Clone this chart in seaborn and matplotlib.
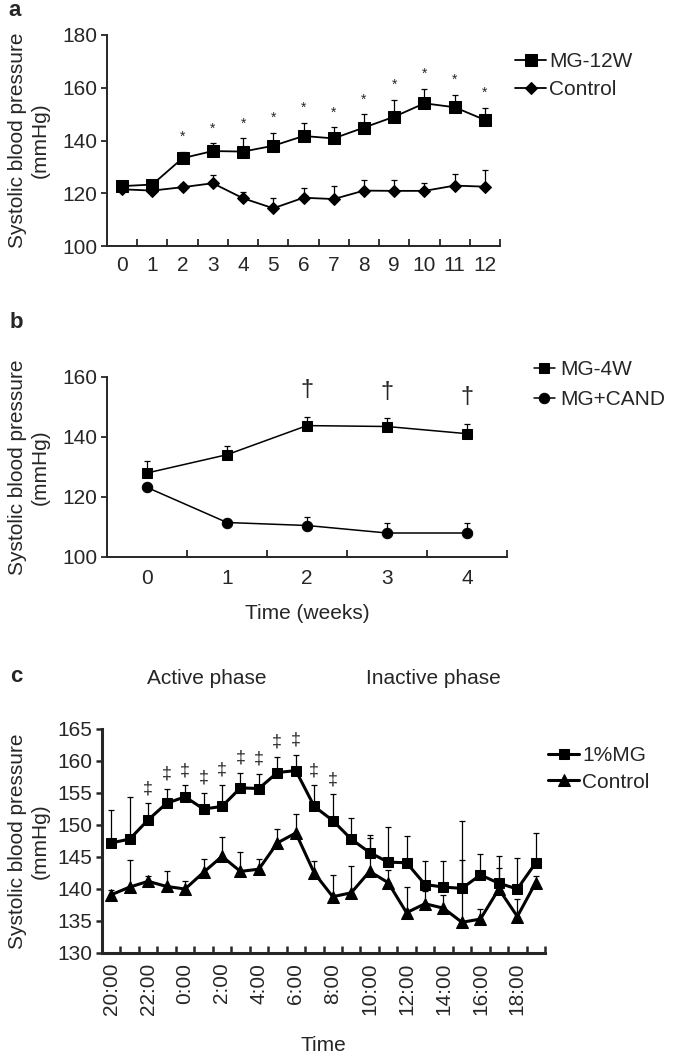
import numpy as np
import matplotlib
matplotlib.use("Agg")
import matplotlib.pyplot as plt
import seaborn as sns

# ---- data ----
weeks_a = list(range(13))
mg12w = [122.7, 123.3, 133.3, 136.0, 135.8, 138.0, 141.7, 140.8, 144.9, 149.0, 154.1, 152.6, 147.8]
mg12w_err = [1.0, 1.0, 2.5, 3.0, 5.0, 5.0, 5.0, 4.2, 5.2, 6.5, 5.5, 4.8, 4.6]
ctrl_a = [121.5, 121.0, 122.3, 123.8, 118.1, 114.3, 118.3, 117.8, 121.0, 120.9, 120.9, 122.9, 122.5]
ctrl_a_err = [1.0, 1.0, 1.2, 3.0, 2.3, 4.0, 3.6, 5.0, 4.0, 4.0, 3.0, 4.4, 6.3]
sig_a = [2, 3, 4, 5, 6, 7, 8, 9, 10, 11, 12]

weeks_b = [0, 1, 2, 3, 4]
mg4w = [128.0, 134.1, 143.8, 143.5, 141.1]
mg4w_err = [3.9, 2.8, 2.9, 2.8, 3.3]
cand = [123.2, 111.5, 110.5, 108.0, 108.0]
cand_err = [1.0, 1.2, 2.8, 3.3, 3.3]
sig_b = [2, 3, 4]

hours_c = ["20:00", "21:00", "22:00", "23:00", "0:00", "1:00", "2:00", "3:00",
           "4:00", "5:00", "6:00", "7:00", "8:00", "9:00", "10:00", "11:00",
           "12:00", "13:00", "14:00", "15:00", "16:00", "17:00", "18:00", "19:00"]
mg1 = [147.2, 147.8, 150.8, 153.4, 154.4, 152.5, 152.9, 155.8, 155.7, 158.2, 158.5, 152.9,
       150.7, 147.8, 145.7, 144.2, 144.1, 140.7, 140.3, 140.1, 142.2, 140.9, 140.0, 144.1]
mg1_err = [5.2, 6.6, 2.6, 2.3, 1.8, 2.5, 3.4, 2.4, 2.3, 2.5, 2.5, 3.3,
           4.1, 3.3, 2.7, 5.5, 4.2, 3.6, 4.0, 10.5, 3.2, 4.3, 4.9, 4.6]
ctrl_c = [139.1, 140.3, 141.2, 140.4, 140.0, 142.6, 145.1, 142.75, 143.1, 147.2, 148.75, 142.5,
          138.8, 139.4, 142.75, 141.0, 136.3, 137.7, 137.0, 134.8, 135.3, 140.0, 135.7, 141.0]
ctrl_c_err = [0.8, 4.3, 0.8, 2.35, 1.2, 2.1, 3.0, 3.1, 1.6, 2.1, 2.9, 1.8,
              3.4, 4.2, 5.2, 2.0, 4.0, 2.0, 2.0, 9.8, 1.6, 3.3, 2.7, 1.0]
sig_c = [2, 3, 4, 5, 6, 7, 8, 9, 10, 11, 12]

sns.set_style("ticks")
plt.rcParams['font.family'] = ['Liberation Sans', 'DejaVu Sans']
plt.rcParams['axes.linewidth'] = 1.4

W, H = 675, 1062
FS = 15
fig = plt.figure(figsize=(W / 100, H / 100), dpi=100)


def add_ax(left, top, right, bottom):
    return fig.add_axes([left / W, 1 - bottom / H, (right - left) / W, (bottom - top) / H])


def series(ax, x, y, err, marker, ms, label, lw, cap):
    ax.errorbar(x, y, yerr=[np.zeros(len(err)), err], fmt="none", ecolor="black",
                elinewidth=0.9, capsize=cap, capthick=0.9, zorder=2)
    sns.lineplot(x=x, y=y, ax=ax, color="black", marker=marker, markersize=ms,
                 markeredgecolor="black", linewidth=lw, label=label, zorder=3)


def cat_axis(ax, n, labels, every=1, rot=0, tlen=5, tw=1.3, pad=5):
    ax.set_xlim(-0.5, n - 0.5)
    ax.set_xticks(range(0, n, every))
    ax.set_xticklabels(labels[::every], fontsize=FS, rotation=rot)
    ax.set_xticks(np.arange(0.5, n, 1.0), minor=True)
    ax.tick_params(axis="x", which="major", length=0, pad=pad)
    ax.tick_params(axis="x", which="minor", direction="in", length=tlen, width=tw)
    ax.tick_params(axis="y", direction="out", length=4, width=tw, labelsize=FS, pad=3)
    sns.despine(ax=ax)


ylab = "Systolic blood pressure\n(mmHg)"

# ---- panel a ----
ax_a = add_ax(107, 35, 500, 246)
series(ax_a, weeks_a, mg12w, mg12w_err, "s", 8.5, "MG-12W", 1.3, 2.5)
series(ax_a, weeks_a, ctrl_a, ctrl_a_err, "D", 6.5, "Control", 1.3, 2.5)
ax_a.set_ylim(100, 180)
ax_a.set_yticks([100, 120, 140, 160, 180])
cat_axis(ax_a, 13, [str(w) for w in weeks_a], pad=7)
for i in sig_a:
    ax_a.text(i, mg12w[i] + mg12w_err[i] + 4.0, "*", ha="center", va="baseline", fontsize=10)
ax_a.set_ylabel(ylab, fontsize=FS, linespacing=1.25)
ax_a.yaxis.set_label_coords(-57 / 393, 0.5)
ax_a.legend(loc="upper left", bbox_to_anchor=(515 / W, 1 - 52 / H), bbox_transform=fig.transFigure,
            frameon=False, fontsize=FS, handlelength=1.5, handletextpad=0.15,
            labelspacing=0.45, borderpad=0, borderaxespad=0)

# ---- panel b ----
ax_b = add_ax(107, 377, 507, 557)
series(ax_b, weeks_b, mg4w, mg4w_err, "s", 7, "MG-4W", 1.1, 2.5)
series(ax_b, weeks_b, cand, cand_err, "o", 7.5, "MG+CAND", 1.1, 2.5)
ax_b.set_ylim(100, 160)
ax_b.set_yticks([100, 120, 140, 160])
cat_axis(ax_b, 5, [str(w) for w in weeks_b], pad=9)
for i in sig_b:
    ax_b.text(i, mg4w[i] + mg4w_err[i] + 6.8, "\u2020", ha="center", va="baseline", fontsize=17)
ax_b.set_ylabel(ylab, fontsize=FS, linespacing=1.25)
ax_b.yaxis.set_label_coords(-57 / 400, 0.5)
ax_b.set_xlabel("Time (weeks)", fontsize=FS, labelpad=11)
ax_b.legend(loc="upper left", bbox_to_anchor=(534 / W, 1 - 360 / H), bbox_transform=fig.transFigure,
            frameon=False, fontsize=FS, handlelength=1.0, handletextpad=0.25,
            labelspacing=0.55, borderpad=0, borderaxespad=0)

# ---- panel c ----
ax_c = add_ax(102, 729, 545, 953)
for s in ("left", "bottom"):
    ax_c.spines[s].set_linewidth(2.2)
series(ax_c, list(range(24)), mg1, mg1_err, "s", 7.5, "1%MG", 2.2, 2.2)
series(ax_c, list(range(24)), ctrl_c, ctrl_c_err, "^", 8.5, "Control", 2.2, 2.2)
ax_c.set_ylim(130, 165)
ax_c.set_yticks(range(130, 166, 5))
cat_axis(ax_c, 24, hours_c, every=2, rot=90, tlen=5, tw=1.8, pad=7)
for i in sig_c:
    ax_c.text(i, mg1[i] + mg1_err[i] + 2.3, "\u2021", ha="center", va="center", fontsize=13)
ax_c.set_ylabel(ylab, fontsize=FS, linespacing=1.25)
ax_c.yaxis.set_label_coords(-52 / 443, 0.5)
ax_c.set_xlabel("Time", fontsize=FS, labelpad=15)
ax_c.legend(loc="upper left", bbox_to_anchor=(548 / W, 1 - 746 / H), bbox_transform=fig.transFigure,
            frameon=False, fontsize=FS, handlelength=1.5, handletextpad=0.15,
            labelspacing=0.36, borderpad=0, borderaxespad=0)
fig.text(207 / W, 1 - 678 / H, "Active phase", ha="center", va="center", fontsize=FS)
fig.text(433 / W, 1 - 678 / H, "Inactive phase", ha="center", va="center", fontsize=FS)

# panel letters
fig.text(8 / W, 1 - 11 / H, "a", fontsize=16, fontweight="bold", va="center")
fig.text(10 / W, 1 - 322 / H, "b", fontsize=16, fontweight="bold", va="center")
fig.text(10 / W, 1 - 676 / H, "c", fontsize=16, fontweight="bold", va="center")

fig.savefig("out.png", dpi=100)
